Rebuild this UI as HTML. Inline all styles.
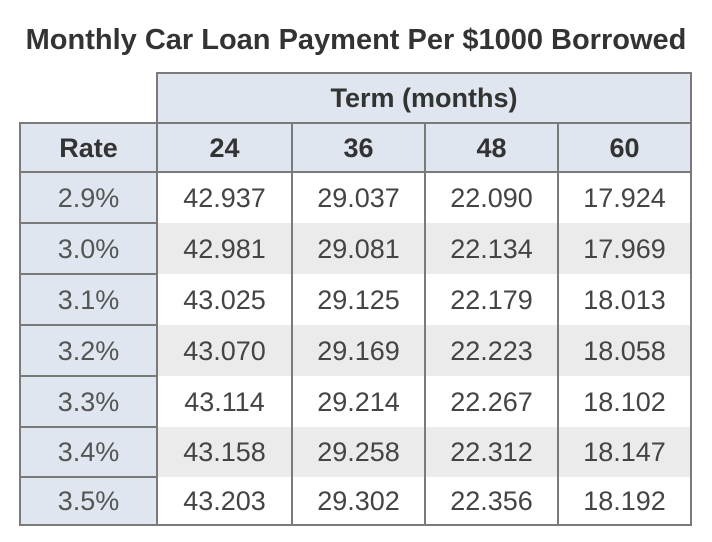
<!DOCTYPE html><html><head><style>
body{margin:0;width:712px;height:542px;background:#fff;font-family:"Liberation Sans",sans-serif;position:relative;overflow:hidden}
.t{position:absolute;left:0;width:712px;top:24px;text-align:center;font-weight:bold;font-size:29px;color:#333;white-space:nowrap}
.c{position:absolute;box-sizing:border-box;display:flex;align-items:center;justify-content:center;font-size:27px;color:#444;padding-top:1px}
.h{background:#dfe6ef;font-weight:bold;color:#333}
.r{background:#dfe6ef;color:#555}
.g{background:#ebebeb}
.l{position:absolute;background:#7a7a7a}
</style></head><body>
<div class="t">Monthly Car Loan Payment Per $1000 Borrowed</div>
<div id="tb"></div>
<script>
var xs=[20,157,292,425,558,691],ys=[123,172,223,274,325,376,427,477,525];
var d=[["Rate","24","36","48","60"],["2.9%","42.937","29.037","22.090","17.924"],["3.0%","42.981","29.081","22.134","17.969"],["3.1%","43.025","29.125","22.179","18.013"],["3.2%","43.070","29.169","22.223","18.058"],["3.3%","43.114","29.214","22.267","18.102"],["3.4%","43.158","29.258","22.312","18.147"],["3.5%","43.203","29.302","22.356","18.192"]];
var h='<div class="c h" style="left:157px;top:73px;width:534px;height:50px">Term (months)</div>';
for(var i=0;i<8;i++)for(var j=0;j<5;j++){var cl=i==0?'h':(j==0?'r':(i%2==0?'g':''));
h+='<div class="c '+cl+'" style="left:'+xs[j]+'px;top:'+ys[i]+'px;width:'+(xs[j+1]-xs[j])+'px;height:'+(ys[i+1]-ys[i])+'px">'+d[i][j]+'</div>';}
h+='<div class="l" style="left:157px;top:72px;width:535px;height:2px"></div>';
h+='<div class="l" style="left:19px;top:122px;width:673px;height:2px"></div>';
h+='<div class="l" style="left:19px;top:171px;width:673px;height:2px"></div>';
h+='<div class="l" style="left:19px;top:524px;width:673px;height:2px"></div>';
for(var i=2;i<8;i++)h+='<div class="l" style="left:19px;top:'+(ys[i]-1)+'px;width:139px;height:2px"></div>';
h+='<div class="l" style="left:19px;top:122px;width:2px;height:404px"></div>';
h+='<div class="l" style="left:156px;top:72px;width:2px;height:454px"></div>';
h+='<div class="l" style="left:690px;top:72px;width:2px;height:454px"></div>';
[292,425,558].forEach(function(x){h+='<div class="l" style="left:'+(x-1)+'px;top:122px;width:2px;height:404px"></div>';});
document.getElementById('tb').innerHTML=h;
</script>
</body></html>
